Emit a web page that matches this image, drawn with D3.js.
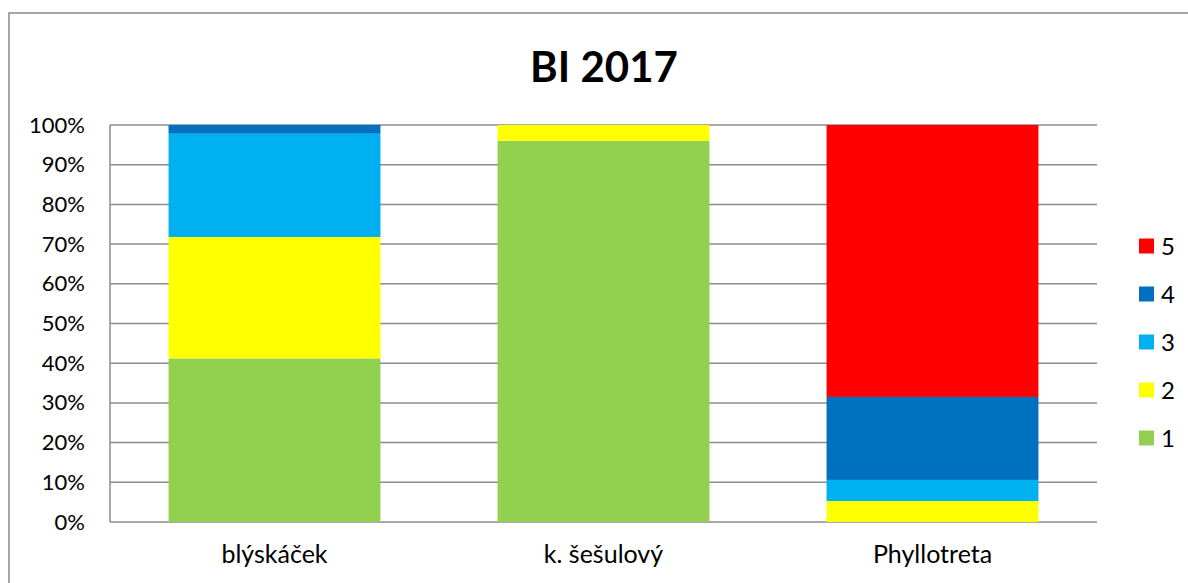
<!DOCTYPE html>
<html><head><meta charset="utf-8">
<script src="https://cdn.jsdelivr.net/npm/d3@7"></script>
<style>body{margin:0;background:#fff;}svg{display:block;font-family:Lato,"Open Sans",sans-serif;}</style>
</head><body>
<svg id="c" width="1188" height="583"></svg>
<script>
const categories = ["blýskáček", "k. šešulový", "Phyllotreta"];
const seriesNames = ["1", "2", "3", "4", "5"];
const s1 = [41.2, 96.0, 0];
const s2 = [30.6, 4.0, 5.3];
const s3 = [26.0, 0, 5.3];
const s4 = [2.2, 0, 20.9];
const s5 = [0, 0, 68.5];
const colors = ["#92d050", "#ffff00", "#00b0f0", "#0070c0", "#ff0000"];
const yTicks = [0, 0.1, 0.2, 0.3, 0.4, 0.5, 0.6, 0.7, 0.8, 0.9, 1.0];
const title = "BI 2017";

const svg = d3.select("#c");
const L = 110, R = 1097, T = 125, B = 522;
svg.append("rect").attr("x", 9).attr("y", 13).attr("width", 1200).attr("height", 600)
  .attr("fill", "none").attr("stroke", "#898989").attr("stroke-width", 1.5);

const table = categories.map((c, i) => {
  const o = {cat: c};
  [s1, s2, s3, s4, s5].forEach((s, k) => o[seriesNames[k]] = s[i]);
  return o;
});
const stack = d3.stack().keys(seriesNames).offset(d3.stackOffsetExpand)(table);

const x = d3.scaleBand().domain(categories).range([L, R]).paddingInner(0.356).paddingOuter(0.178);
const y = d3.scaleLinear().domain([0, 1]).range([B, T]);

// gridlines
svg.append("g").selectAll("line").data(yTicks).join("line")
  .attr("x1", L).attr("x2", R).attr("y1", d => y(d)).attr("y2", d => y(d))
  .attr("stroke", "#8c8c8c").attr("stroke-width", 1.5);
svg.append("line").attr("x1", L).attr("x2", L).attr("y1", T).attr("y2", B)
  .attr("stroke", "#8c8c8c").attr("stroke-width", 1.5);

// bars
svg.append("g").selectAll("g").data(stack).join("g")
  .attr("fill", (d, i) => colors[i])
  .selectAll("rect").data(d => d).join("rect")
  .attr("x", d => x(d.data.cat)).attr("width", x.bandwidth())
  .attr("y", d => y(d[1])).attr("height", d => y(d[0]) - y(d[1]));

// y labels
const yAxis = d3.axisLeft(y).tickValues(yTicks).tickFormat(d3.format(".0%")).tickSize(0).tickPadding(25);
const ga = svg.append("g").attr("transform", `translate(${L},0)`).call(yAxis);
ga.select(".domain").remove();
ga.selectAll("text").attr("font-size", 22).attr("font-family", "Lato").attr("fill", "#000");

// x labels
const xAxis = d3.axisBottom(x).tickSize(0).tickPadding(23);
const gx = svg.append("g").attr("transform", `translate(0,${B})`).call(xAxis);
gx.select(".domain").remove();
gx.selectAll("text").attr("font-size", 25).attr("font-family", "Lato").attr("fill", "#000");

// title
svg.append("text").attr("x", 604).attr("y", 82).attr("text-anchor", "middle")
  .attr("font-size", 42).attr("font-weight", "bold").attr("font-family", "Lato").text(title);

// legend
const legY = d3.scalePoint().domain(seriesNames.slice().reverse()).range([246, 438]);
const lg = svg.append("g").selectAll("g").data(seriesNames).join("g")
  .attr("transform", d => `translate(1139,${legY(d)})`);
lg.append("rect").attr("x", 0).attr("y", -7.5).attr("width", 15).attr("height", 15)
  .attr("fill", (d, i) => colors[i]);
lg.append("text").attr("x", 22).attr("y", 0).attr("dy", "0.36em").attr("font-size", 24)
  .attr("font-family", "Lato").text(d => d);
</script>
</body></html>
